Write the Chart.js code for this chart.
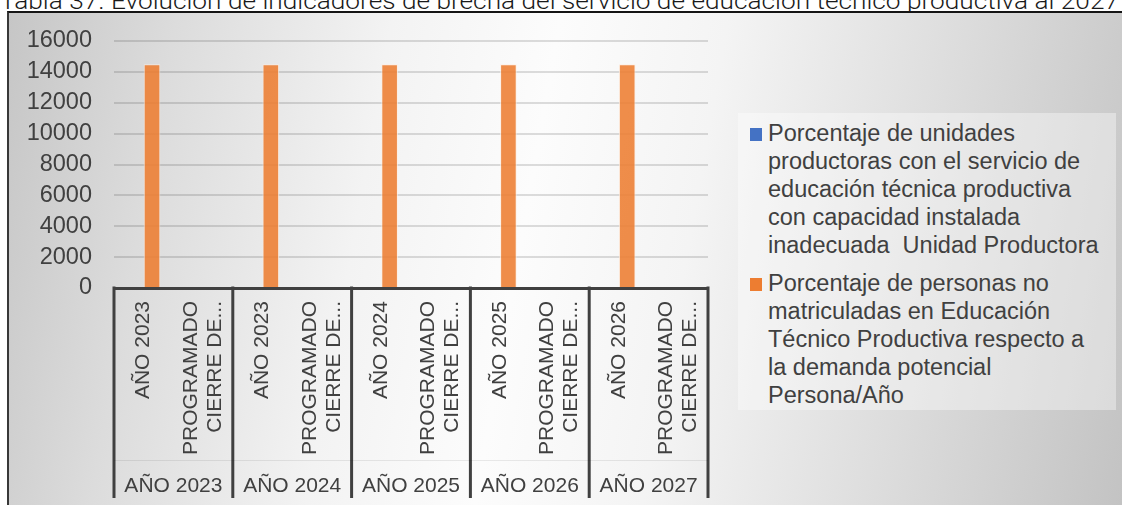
<!DOCTYPE html>
<html>
<head>
<meta charset="utf-8">
<script src="https://cdn.jsdelivr.net/npm/chart.js@4/dist/chart.umd.min.js"></script>
<style>
  html, body { margin: 0; padding: 0; width: 1122px; height: 505px; overflow: hidden; background: #ffffff; }
  #title {
    position: absolute; left: 0; top: -11px; height: 24px; line-height: 24px;
    font-family: Roboto, "Liberation Sans", sans-serif; font-weight: 300; font-size: 24px;
    color: #1a1a1a; white-space: nowrap; transform-origin: 0 0;
  }
  #frame {
    position: absolute; left: 7px; top: 11px; width: 1115px; height: 500px; box-sizing: border-box;
    border-top: 2px solid #151515; border-left: 2px solid #383838;
    background: linear-gradient(100deg, #c6c6c6 0%, #dcdcdc 14%, #f3f3f3 32%, #fcfcfc 46%, #f4f4f4 60%, #dcdcdc 80%, #c3c3c3 100%);
  }
  #chartWrap { position: absolute; left: 0; top: 0; width: 1122px; height: 505px; }
  #legend {
    position: absolute; left: 738px; top: 113px; width: 378px; height: 297px;
    background: rgba(255,255,255,0.38);
    font-family: "Liberation Sans", Arial, sans-serif; font-size: 23.5px; color: #404040;
  }
  .item { position: absolute; left: 30px; line-height: 28px; white-space: nowrap; }
  .mark { position: absolute; left: 12px; width: 12px; height: 13px; }
</style>
</head>
<body>
<div id="title"><span id="titleText">Tabla 37. Evolución de indicadores de brecha del servicio de educación técnico productiva al 2027</span></div>
<div id="frame"></div>
<div id="legend">
  <div class="mark" style="top:15px;background:#4472C4;"></div>
  <div class="item" style="top:6px;">Porcentaje de unidades<br>productoras con el servicio de<br>educación técnica productiva<br>con capacidad instalada<br>inadecuada&nbsp; Unidad Productora</div>
  <div class="mark" style="top:165px;background:#ED7D31;"></div>
  <div class="item" style="top:156px;">Porcentaje de personas no<br>matriculadas en Educación<br>Técnico Productiva respecto a<br>la demanda potencial<br>Persona/Año</div>
</div>
<div id="chartWrap"><canvas id="c" width="1122" height="505"></canvas></div>
<script>
// ---- data ----
const categories = [
  "AÑO 2023 | AÑO 2023", "PROGRAMADO CIERRE DE... | AÑO 2023",
  "AÑO 2023 | AÑO 2024", "PROGRAMADO CIERRE DE... | AÑO 2024",
  "AÑO 2024 | AÑO 2025", "PROGRAMADO CIERRE DE... | AÑO 2025",
  "AÑO 2025 | AÑO 2026", "PROGRAMADO CIERRE DE... | AÑO 2026",
  "AÑO 2026 | AÑO 2027", "PROGRAMADO CIERRE DE... | AÑO 2027"
];
const innerLabels = [
  ["AÑO 2023"], ["PROGRAMADO", "CIERRE DE..."],
  ["AÑO 2023"], ["PROGRAMADO", "CIERRE DE..."],
  ["AÑO 2024"], ["PROGRAMADO", "CIERRE DE..."],
  ["AÑO 2025"], ["PROGRAMADO", "CIERRE DE..."],
  ["AÑO 2026"], ["PROGRAMADO", "CIERRE DE..."]
];
const groupLabels = ["AÑO 2023", "AÑO 2024", "AÑO 2025", "AÑO 2026", "AÑO 2027"];
const seriesUnidades = [null, null, null, null, null, null, null, null, null, null];
const seriesPersonas = [14500, null, 14500, null, 14500, null, 14500, null, 14500, null];
const seriesNames = [
  "Porcentaje de unidades productoras con el servicio de educación técnica productiva con capacidad instalada inadecuada  Unidad Productora",
  "Porcentaje de personas no matriculadas en Educación Técnico Productiva respecto a la demanda potencial Persona/Año"
];
const yTicks = [0, 2000, 4000, 6000, 8000, 10000, 12000, 14000, 16000];

// ---- title fit ----
(function(){
  const t = document.getElementById('title');
  const w = document.getElementById('titleText').getBoundingClientRect().width;
  if (w > 0) t.style.transform = 'scaleX(' + (1119 / w) + ')';
})();

const TEXT = '#404040';
const FONT = '"Liberation Sans", Arial, sans-serif';

const multiLevelAxis = {
  id: 'multiLevelAxis',
  afterDraw(chart) {
    const x = chart.scales.x;
    const ctx = chart.ctx;
    const top = x.top;
    ctx.save();
    ctx.fillStyle = TEXT;
    ctx.font = '21px ' + FONT;
    ctx.textAlign = 'right';
    ctx.textBaseline = 'middle';
    const lh = 24;
    innerLabels.forEach((lines, i) => {
      const p = x.getPixelForValue(i);
      const n = lines.length;
      lines.forEach((line, j) => {
        const cx = p + (j - (n - 1) / 2) * lh;
        ctx.save();
        ctx.translate(cx, top + 13);
        ctx.rotate(-Math.PI / 2);
        ctx.fillText(line, 0, 0);
        ctx.restore();
      });
    });
    const bounds = [x.left];
    for (let k = 1; k < groupLabels.length; k++) {
      bounds.push((x.getPixelForValue(2 * k - 1) + x.getPixelForValue(2 * k)) / 2);
    }
    bounds.push(x.right);
    ctx.strokeStyle = '#404040';
    ctx.lineWidth = 3;
    bounds.forEach(b => {
      ctx.beginPath();
      ctx.moveTo(b, top - 1.5);
      ctx.lineTo(b, 498);
      ctx.stroke();
    });
    ctx.strokeStyle = 'rgba(0,0,0,0.08)';
    ctx.lineWidth = 1;
    ctx.beginPath();
    ctx.moveTo(x.left, 460.5);
    ctx.lineTo(x.right, 460.5);
    ctx.stroke();
    ctx.fillStyle = TEXT;
    ctx.textAlign = 'center';
    ctx.textBaseline = 'middle';
    groupLabels.forEach((g, k) => {
      ctx.fillText(g, (bounds[k] + bounds[k + 1]) / 2, 486);
    });
    ctx.restore();
  }
};

new Chart(document.getElementById('c'), {
  type: 'bar',
  data: {
    labels: categories,
    datasets: [
      { label: seriesNames[0], data: seriesUnidades, backgroundColor: '#4472C4' },
      { label: seriesNames[1], data: seriesPersonas, backgroundColor: 'rgba(237,125,49,0.88)',
        borderColor: 'rgba(255,236,222,0.75)', borderWidth: 1 }
    ]
  },
  options: {
    responsive: false,
    animation: false,
    devicePixelRatio: 1,
    layout: { padding: { top: 41, right: 414, left: 0, bottom: 0 } },
    datasets: { bar: { categoryPercentage: 0.56, barPercentage: 1.0 } },
    plugins: { legend: { display: false }, title: { display: false }, tooltip: { enabled: false } },
    scales: {
      x: {
        type: 'category',
        ticks: { display: false },
        grid: { display: false },
        border: { display: true, color: '#404040', width: 3 },
        afterFit: (s) => { s.height = 217; }
      },
      y: {
        min: yTicks[0], max: yTicks[yTicks.length - 1],
        afterBuildTicks: (s) => { s.ticks = yTicks.map(v => ({ value: v })); },
        ticks: {
          color: TEXT, font: { family: FONT, size: 23.5 }, padding: 22,
          autoSkip: false, callback: (v) => String(v)
        },
        grid: { color: 'rgba(0,0,0,0.13)', lineWidth: 2, drawTicks: false },
        border: { display: false },
        afterFit: (s) => { s.width = 114; }
      }
    }
  },
  plugins: [multiLevelAxis]
});
</script>
</body>
</html>
